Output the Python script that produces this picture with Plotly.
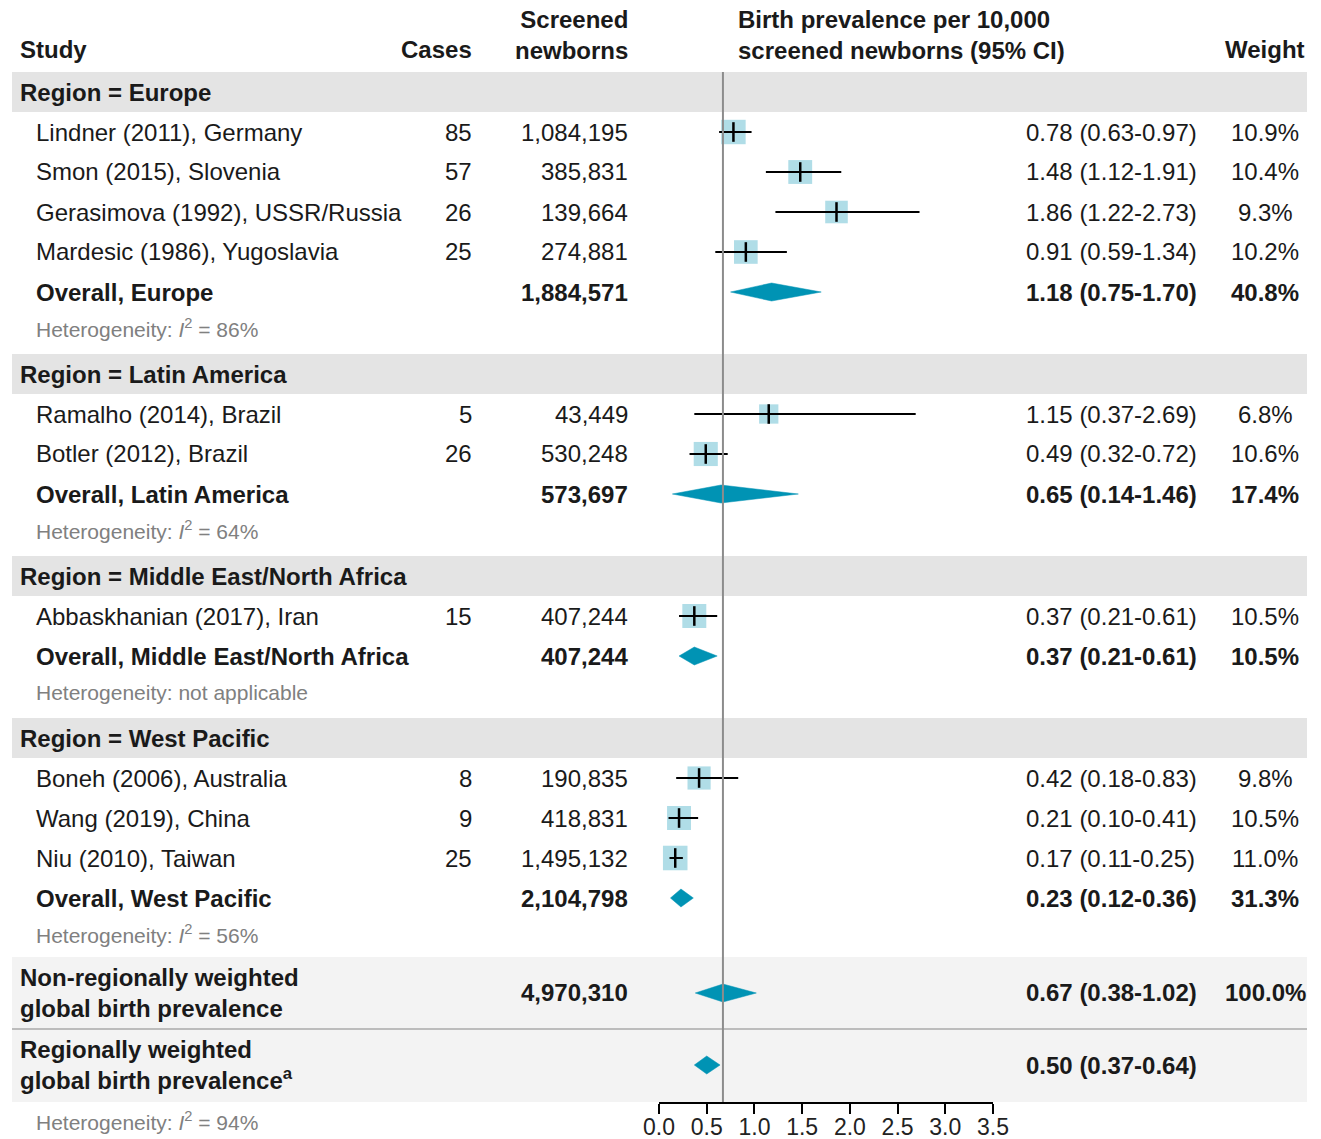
import plotly.graph_objects as go
import numpy as np

W, H = 1321, 1139
FONT = "Liberation Sans, Arial, Helvetica, sans-serif"

# ---- study-level data ----
region_names = ["Europe", "Latin America", "Middle East/North Africa", "West Pacific"]
study_region = [0, 0, 0, 0, 1, 1, 2, 3, 3, 3]
study_labels = [
    "Lindner (2011), Germany",
    "Smon (2015), Slovenia",
    "Gerasimova (1992), USSR/Russia",
    "Mardesic (1986), Yugoslavia",
    "Ramalho (2014), Brazil",
    "Botler (2012), Brazil",
    "Abbaskhanian (2017), Iran",
    "Boneh (2006), Australia",
    "Wang (2019), China",
    "Niu (2010), Taiwan",
]
study_cases = [85, 57, 26, 25, 5, 26, 15, 8, 9, 25]
study_screened = [1084195, 385831, 139664, 274881, 43449, 530248, 407244, 190835, 418831, 1495132]
study_est = [0.78, 1.48, 1.86, 0.91, 1.15, 0.49, 0.37, 0.42, 0.21, 0.17]
study_lo = [0.63, 1.12, 1.22, 0.59, 0.37, 0.32, 0.21, 0.18, 0.10, 0.11]
study_hi = [0.97, 1.91, 2.73, 1.34, 2.69, 0.72, 0.61, 0.83, 0.41, 0.25]
study_weight = [10.9, 10.4, 9.3, 10.2, 6.8, 10.6, 10.5, 9.8, 10.5, 11.0]

# ---- regional pooled estimates ----
region_screened = [1884571, 573697, 407244, 2104798]
region_est = [1.18, 0.65, 0.37, 0.23]
region_lo = [0.75, 0.14, 0.21, 0.12]
region_hi = [1.70, 1.46, 0.61, 0.36]
region_weight = [40.8, 17.4, 10.5, 31.3]
region_i2 = ["86%", "64%", None, "56%"]

# ---- global pooled estimates ----
global_labels = [
    "Non-regionally weighted<br>global birth prevalence",
    "Regionally weighted<br>global birth prevalence<sup>a</sup>",
]
global_screened = [4970310, None]
global_est = [0.67, 0.50]
global_lo = [0.38, 0.37]
global_hi = [1.02, 0.64]
global_weight = [100.0, None]
global_i2 = "94%"

x_ticks = [0.0, 0.5, 1.0, 1.5, 2.0, 2.5, 3.0, 3.5]

# ---- colours ----
TXT = "#1a1a1a"
GREY_TXT = "#808080"
BAND = "#e4e4e4"
GLOBAL_BAND = "#f3f3f3"
BOX = "#8ecfdd"
DIAMOND = "#0093b4"
REFLINE = "#8c8c8c"

# ---- text sizes ----
FS = 24
FS_HET = 21
FS_TICK = 23

# ---- row layout (y in pixels from the top, plot bottom = axis line) ----
AXIS_Y = 1102
ROW = 40
band_y, study_y, overall_y, het_y = [], [], [], []
y = 92
for r in range(len(region_names)):
    band_y.append(y)
    for i, s in enumerate(study_region):
        if s == r:
            y += ROW
            study_y.append(y)
    y += ROW
    overall_y.append(y)
    y += 36
    het_y.append(y)
    y += 46
global_top = het_y[-1] + 23
global_sep = global_top + 72
global_y = [global_top + 36, global_sep + 36]
global_het_y = AXIS_Y + 19

# column anchors (pixels)
X_LEFT = 18
X_INDENT = 34
X_CASES = 474
X_SCREENED = 630
X_FOREST_TXT = 736
X_EST = 1024
X_WEIGHT = 1265
BAND_X0, BAND_X1 = 12, 1307
FOREST_X0, FOREST_X1 = 659, 993


def px(x):
    return x / W


def py(yv):
    return 1 - yv / H


fig = go.Figure()
annotations = []
shapes = []


def add_text(x, yv, text, anchor="left", size=FS, color=TXT, bold=False):
    if bold:
        text = f"<b>{text}</b>"
    annotations.append(dict(
        x=px(x), y=py(yv), xref="paper", yref="paper", text=text, showarrow=False,
        xanchor=anchor, yanchor="middle", align=anchor if anchor != "center" else "center",
        font=dict(family=FONT, size=size, color=color),
    ))


# header
add_text(X_LEFT, 49, "Study", bold=True)
add_text(X_CASES, 50, "Cases", anchor="right", bold=True)
add_text(X_SCREENED, 35, "Screened<br>newborns", anchor="right", bold=True)
add_text(X_FOREST_TXT, 35, "Birth prevalence per 10,000<br>screened newborns (95% CI)", bold=True)
add_text(X_WEIGHT, 49, "Weight", anchor="center", bold=True)

# region bands and texts
for r, name in enumerate(region_names):
    shapes.append(dict(type="rect", xref="paper", yref="y", x0=px(BAND_X0), x1=px(BAND_X1),
                       y0=band_y[r] - 20, y1=band_y[r] + 20, fillcolor=BAND, line_width=0, layer="below"))
    add_text(X_LEFT, band_y[r], f"Region = {name}", bold=True)
    add_text(X_INDENT, overall_y[r], f"Overall, {name}", bold=True)
    add_text(X_SCREENED, overall_y[r], f"{region_screened[r]:,}", anchor="right", bold=True)
    add_text(X_EST, overall_y[r], f"{region_est[r]:.2f} ({region_lo[r]:.2f}-{region_hi[r]:.2f})", bold=True)
    add_text(X_WEIGHT, overall_y[r], f"{region_weight[r]:.1f}%", anchor="center", bold=True)
    het = f"<i>I</i><sup>2</sup> = {region_i2[r]}" if region_i2[r] else "not applicable"
    add_text(X_INDENT, het_y[r], f"Heterogeneity: {het}", size=FS_HET, color=GREY_TXT)

for i, lab in enumerate(study_labels):
    yy = study_y[i]
    add_text(X_INDENT, yy, lab)
    add_text(X_CASES, yy, f"{study_cases[i]}", anchor="right")
    add_text(X_SCREENED, yy, f"{study_screened[i]:,}", anchor="right")
    add_text(X_EST, yy, f"{study_est[i]:.2f} ({study_lo[i]:.2f}-{study_hi[i]:.2f})")
    add_text(X_WEIGHT, yy, f"{study_weight[i]:.1f}%", anchor="center")

# global block
shapes.append(dict(type="rect", xref="paper", yref="y", x0=px(BAND_X0), x1=px(BAND_X1),
                   y0=global_top, y1=AXIS_Y, fillcolor=GLOBAL_BAND, line_width=0, layer="below"))
shapes.append(dict(type="line", xref="paper", yref="y", x0=px(BAND_X0), x1=px(BAND_X1),
                   y0=global_sep, y1=global_sep, line=dict(color="#aaaaaa", width=1.5), layer="below"))
for g in range(2):
    add_text(X_LEFT, global_y[g], global_labels[g], bold=True)
    if global_screened[g] is not None:
        add_text(X_SCREENED, global_y[g], f"{global_screened[g]:,}", anchor="right", bold=True)
    add_text(X_EST, global_y[g], f"{global_est[g]:.2f} ({global_lo[g]:.2f}-{global_hi[g]:.2f})", bold=True)
    if global_weight[g] is not None:
        add_text(X_WEIGHT, global_y[g], f"{global_weight[g]:.1f}%", anchor="center", bold=True)
add_text(X_INDENT, global_het_y, f"Heterogeneity: <i>I</i><sup>2</sup> = {global_i2}", size=FS_HET, color=GREY_TXT)

# ---- forest marks ----
# confidence intervals
ci_x, ci_y = [], []
for i in range(len(study_est)):
    ci_x += [study_lo[i], study_hi[i], None]
    ci_y += [study_y[i], study_y[i], None]

# weight boxes
fig.add_trace(go.Scatter(
    x=study_est, y=study_y, mode="markers",
    marker=dict(symbol="square", color=BOX, size=[7.4 * np.sqrt(w) for w in study_weight], line_width=0),
    hoverinfo="skip", showlegend=False, cliponaxis=False,
))
fig.add_trace(go.Scatter(
    x=ci_x, y=ci_y, mode="lines", line=dict(color="black", width=2),
    hoverinfo="skip", showlegend=False, cliponaxis=False,
))
fig.add_trace(go.Scatter(
    x=study_est, y=study_y, mode="markers",
    marker=dict(symbol="line-ns", size=14, line=dict(color="black", width=2.5)),
    hoverinfo="skip", showlegend=False, cliponaxis=False,
))

# pooled diamonds
HALF = 9
d_x, d_y = [], []
for est, lo, hi, yy in zip(region_est + global_est, region_lo + global_lo,
                           region_hi + global_hi, overall_y + global_y):
    d_x += [lo, est, hi, est, lo, None]
    d_y += [yy, yy - HALF, yy, yy + HALF, yy, None]
fig.add_trace(go.Scatter(
    x=d_x, y=d_y, mode="lines", fill="toself", fillcolor=DIAMOND,
    line=dict(color=DIAMOND, width=0.5), hoverinfo="skip", showlegend=False, cliponaxis=False,
))

# reference line at the non-regionally weighted estimate
fig.add_trace(go.Scatter(
    x=[global_est[0], global_est[0]], y=[band_y[0] - 20, AXIS_Y], mode="lines",
    line=dict(color=REFLINE, width=2), hoverinfo="skip", showlegend=False, cliponaxis=False,
))

fig.update_layout(
    width=W, height=H,
    margin=dict(l=0, r=0, t=0, b=0, autoexpand=False),
    paper_bgcolor="white", plot_bgcolor="rgba(0,0,0,0)",
    showlegend=False,
    annotations=annotations,
    shapes=shapes,
    xaxis=dict(
        domain=[px(FOREST_X0), px(FOREST_X1)], range=[0, 3.5],
        tickvals=x_ticks, ticktext=[f"{t:.1f}" for t in x_ticks],
        showline=True, linecolor="black", linewidth=2,
        ticks="outside", ticklen=10, tickwidth=2, tickcolor="black",
        ticklabelstandoff=-7,
        showgrid=False, zeroline=False, fixedrange=True, automargin=False,
        tickfont=dict(family=FONT, size=FS_TICK, color="#222222"),
    ),
    yaxis=dict(
        domain=[(H - AXIS_Y) / H, 1], range=[AXIS_Y, 0],
        visible=False, showgrid=False, zeroline=False, fixedrange=True,
    ),
)

fig.write_html("out.html")
